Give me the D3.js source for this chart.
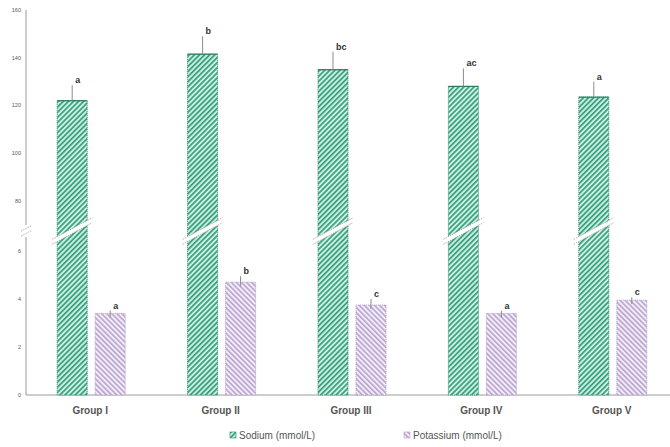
<!DOCTYPE html>
<html>
<head>
<meta charset="utf-8">
<script src="https://cdn.jsdelivr.net/npm/d3@7/dist/d3.min.js"></script>
<style>
  html, body { margin: 0; padding: 0; background: #fff; }
  svg { display: block; font-family: "Liberation Sans", Arial, sans-serif; }
</style>
</head>
<body>
<svg id="chart" width="670" height="447"></svg>
<script>
// Serum electrolytes per group (mean, SD and significance letters)
const groups = ["Group I", "Group II", "Group III", "Group IV", "Group V"];
const sodium = [122, 141.5, 135, 128, 123.5];
const sodiumSD = [6.5, 7.5, 7.5, 7.5, 6.5];
const sodiumSig = ["a", "b", "bc", "ac", "a"];
const potassium = [3.4, 4.7, 3.75, 3.4, 3.95];
const potassiumSD = [0.12, 0.25, 0.25, 0.1, 0.12];
const potassiumSig = ["a", "b", "c", "a", "c"];
const upperTicks = [80, 100, 120, 140, 160];
const lowerTicks = [0, 2, 4, 6];
const seriesNames = ["Sodium (mmol/L)", "Potassium (mmol/L)"];

const svg = d3.select("#chart");
const axisX = 26, baseY = 395, breakY = 231;

// Broken y axis: one scale for the sodium range and one for potassium
const yUpper = d3.scaleLinear().domain([80, 160]).range([201, 10]);
const yLower = d3.scaleLinear().domain([0, 6]).range([baseY, 251]);

const x0 = d3.scaleBand().domain(groups).range([axisX, 678]);
const x1 = d3.scaleBand().domain(["na", "k"]).range([0, x0.bandwidth()])
  .paddingInner(0.21).paddingOuter(0.82);

// Hatch patterns
const defs = svg.append("defs");
function hatch(id, bg, fg, angle) {
  const p = defs.append("pattern").attr("id", id)
    .attr("patternUnits", "userSpaceOnUse").attr("width", 3.6).attr("height", 3.6)
    .attr("patternTransform", `rotate(${angle})`);
  p.append("rect").attr("width", 3.6).attr("height", 3.6).attr("fill", bg);
  p.append("rect").attr("width", 1.7).attr("height", 3.6).attr("fill", fg);
}
hatch("hNa", "#cdeee1", "#35a07f", 45);
hatch("hK", "#f3edf7", "#bba6d2", -45);

const styles = {
  na: { fill: "url(#hNa)", stroke: "#2f8a6c" },
  k: { fill: "url(#hK)", stroke: "#b29dca" }
};

// Y axis lines (with break)
const axisG = svg.append("g");
axisG.append("line").attr("x1", axisX).attr("x2", axisX)
  .attr("y1", yUpper(160)).attr("y2", breakY - 6).attr("stroke", "#9a9a9a");
axisG.append("line").attr("x1", axisX).attr("x2", axisX)
  .attr("y1", breakY + 6).attr("y2", baseY).attr("stroke", "#9a9a9a");
axisG.append("line").attr("x1", axisX).attr("x2", 670)
  .attr("y1", baseY).attr("y2", baseY).attr("stroke", "#9a9a9a");

axisG.selectAll("text.up").data(upperTicks).join("text")
  .attr("x", axisX - 5).attr("y", d => yUpper(d)).attr("dy", "0.35em")
  .attr("text-anchor", "end").attr("font-size", 5.5).attr("fill", "#555")
  .text(d => d);
axisG.selectAll("text.lo").data(lowerTicks).join("text")
  .attr("x", axisX - 5).attr("y", d => yLower(d)).attr("dy", "0.35em")
  .attr("text-anchor", "end").attr("font-size", 5.5).attr("fill", "#555")
  .text(d => d);

// Break mark on axis
function breakMark(g, cx, half) {
  const slope = 0.54, gap = 2.5;
  const pts = [[cx - half, breakY + half * slope], [cx + half, breakY - half * slope]];
  g.append("polygon")
    .attr("points", [
      [pts[0][0], pts[0][1] - gap], [pts[1][0], pts[1][1] - gap],
      [pts[1][0], pts[1][1] + gap], [pts[0][0], pts[0][1] + gap]
    ].map(p => p.join(",")).join(" "))
    .attr("fill", "#fff");
  [-gap, gap].forEach(o => {
    g.append("line")
      .attr("x1", pts[0][0]).attr("y1", pts[0][1] + o)
      .attr("x2", pts[1][0]).attr("y2", pts[1][1] + o)
      .attr("stroke", "#a0a0a0").attr("stroke-width", 0.8)
      .attr("stroke-dasharray", "1.5,1");
  });
}

const gGroups = svg.append("g").selectAll("g").data(groups).join("g")
  .attr("transform", d => `translate(${x0(d)},0)`);

// Sodium bars run from the axis base through the break to the upper scale
gGroups.each(function (d, i) {
  const g = d3.select(this);
  const xn = x1("na"), w = x1.bandwidth();
  const top = yUpper(sodium[i]);
  g.append("rect").attr("x", xn).attr("y", top).attr("width", w)
    .attr("height", baseY - top).attr("fill", styles.na.fill)
    .attr("stroke", styles.na.stroke).attr("stroke-width", 0.8)
    .attr("stroke-dasharray", "1.2,0.8");
  g.append("line").attr("x1", xn).attr("x2", xn + w).attr("y1", top).attr("y2", top)
    .attr("stroke", "#2f7a62").attr("stroke-width", 1.2);
  breakMark(g, xn + w / 2, w / 2 + 5);
  const ex = xn + w / 2, et = yUpper(sodium[i] + sodiumSD[i]);
  g.append("line").attr("x1", ex).attr("x2", ex).attr("y1", top).attr("y2", et)
    .attr("stroke", "#8a8a8a").attr("stroke-width", 1);
  g.append("text").attr("x", ex + 3).attr("y", et - 2)
    .attr("font-size", 9).attr("font-weight", "bold").attr("fill", "#333")
    .text(sodiumSig[i]);

  const xk = x1("k");
  const kt = yLower(potassium[i]);
  g.append("rect").attr("x", xk).attr("y", kt).attr("width", w)
    .attr("height", baseY - kt).attr("fill", styles.k.fill)
    .attr("stroke", styles.k.stroke).attr("stroke-width", 0.8)
    .attr("stroke-dasharray", "1.2,0.8");
  const kx = xk + w / 2, ket = yLower(potassium[i] + potassiumSD[i]);
  g.append("line").attr("x1", kx).attr("x2", kx).attr("y1", kt + 4).attr("y2", ket)
    .attr("stroke", "#8a8a8a").attr("stroke-width", 1);
  g.append("text").attr("x", kx + 3).attr("y", ket - 2)
    .attr("font-size", 9).attr("font-weight", "bold").attr("fill", "#333")
    .text(potassiumSig[i]);
});

breakMark(axisG, axisX, 5);

// Category labels
svg.append("g").selectAll("text").data(groups).join("text")
  .attr("x", d => x0(d) + x0.bandwidth() / 2 - 1).attr("y", 414)
  .attr("text-anchor", "middle").attr("font-size", 10).attr("font-weight", "bold")
  .attr("fill", "#555").text(d => d);

// Legend
const legend = svg.append("g");
const legendX = [230, 404];
seriesNames.forEach((name, i) => {
  const key = i === 0 ? "na" : "k";
  legend.append("rect").attr("x", legendX[i]).attr("y", 432).attr("width", 6).attr("height", 6)
    .attr("fill", styles[key].fill).attr("stroke", styles[key].stroke).attr("stroke-width", 0.6);
  legend.append("text").attr("x", legendX[i] + 9).attr("y", 438.5)
    .attr("font-size", 10).attr("fill", "#555").text(name);
});
</script>
</body>
</html>
